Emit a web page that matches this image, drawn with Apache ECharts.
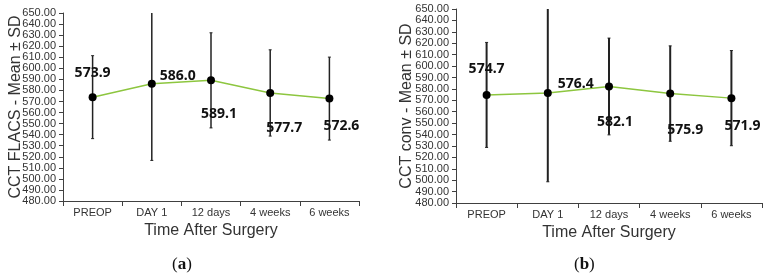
<!DOCTYPE html>
<html>
<head>
<meta charset="utf-8">
<script src="https://cdn.jsdelivr.net/npm/echarts@6/dist/echarts.min.js"></script>
<style>
  html, body { margin: 0; padding: 0; background: #fff; }
  #chart { width: 768px; height: 276px; }
</style>
</head>
<body>
<div id="chart"></div>
<script>
// categories and values
const categories = ['PREOP', 'DAY 1', '12 days', '4 weeks', '6 weeks']
const flacsMean = [573.9, 586.0, 589.1, 577.7, 572.6]
const flacsSd = [37.5, 69.3, 43.0, 39.0, 37.5]
const convMean = [574.7, 576.4, 582.1, 575.9, 571.9]
const convSd = [46.0, 77.8, 42.4, 41.8, 41.7]
const yMin = 480
const yMax = 650
const yStep = 10

// label placement (pixel offsets from each point), styling only
const flacsLabelOffset = [[0, -24], [26, -8], [8, 34], [14, 35], [12, 27]]
const convLabelOffset = [[0, -26], [28, -9], [6, 36], [15, 36], [11, 28]]

const axisColor = '#404040'
const textColor = '#333'
const lineGreen = '#8DC63F'

function yAxisOpt (gridIndex, name, gap) {
  return {
    type: 'value',
    gridIndex: gridIndex,
    min: yMin,
    max: yMax,
    interval: yStep,
    name: name,
    nameLocation: 'middle',
    nameGap: gap,
    nameMoveOverlap: false,
    nameTextStyle: { fontFamily: 'Liberation Sans', fontSize: 16, color: '#333' },
    axisLine: { show: true, lineStyle: { color: axisColor, width: 1 } },
    axisTick: { show: true, length: 4, lineStyle: { color: axisColor } },
    axisLabel: {
      margin: 7,
      fontFamily: 'Liberation Sans',
      fontSize: 11,
      color: textColor,
      formatter: v => v.toFixed(2)
    },
    splitLine: { show: false }
  }
}

function xAxisOpt (gridIndex, gap) {
  return {
    type: 'category',
    gridIndex: gridIndex,
    data: categories,
    boundaryGap: true,
    name: 'Time After Surgery',
    nameLocation: 'middle',
    nameGap: gap,
    nameTextStyle: { fontFamily: 'Liberation Sans', fontSize: 16, color: '#333' },
    axisLine: { show: true, lineStyle: { color: axisColor, width: 1 } },
    axisTick: { show: true, length: 5, alignWithLabel: false, lineStyle: { color: axisColor } },
    axisLabel: { margin: 6, fontFamily: 'Liberation Sans', fontSize: 11, color: textColor }
  }
}

function errorSeries (idx, means, sds, width) {
  return {
    type: 'custom',
    xAxisIndex: idx,
    yAxisIndex: idx,
    clip: true,
    z: 1,
    data: means.map((m, i) => [i, m - sds[i], m + sds[i]]),
    renderItem: function (params, api) {
      const lo = api.coord([api.value(0), api.value(1)])
      const hi = api.coord([api.value(0), api.value(2)])
      const c = 1.5
      return {
        type: 'group',
        children: [
          { type: 'line', shape: { x1: lo[0], y1: lo[1], x2: hi[0], y2: hi[1] }, style: { stroke: '#222', lineWidth: width } },
          { type: 'line', shape: { x1: hi[0] - c, y1: hi[1], x2: hi[0] + c, y2: hi[1] }, style: { stroke: '#222', lineWidth: 1 } },
          { type: 'line', shape: { x1: lo[0] - c, y1: lo[1], x2: lo[0] + c, y2: lo[1] }, style: { stroke: '#222', lineWidth: 1 } }
        ]
      }
    }
  }
}

function meanSeries (idx, means, offsets) {
  return {
    type: 'line',
    xAxisIndex: idx,
    yAxisIndex: idx,
    z: 3,
    symbol: 'circle',
    symbolSize: 8,
    itemStyle: { color: '#000' },
    lineStyle: { color: lineGreen, width: 1.5 },
    data: means.map((m, i) => ({
      value: m,
      label: { offset: offsets[i] }
    })),
    label: {
      show: true,
      position: 'inside',
      fontFamily: 'Noto Sans',
      fontWeight: 'bold',
      fontSize: 14,
      color: '#111',
      formatter: p => p.value.toFixed(1)
    }
  }
}

const chartDom = document.getElementById('chart')
const myChart = echarts.init(chartDom, null, { renderer: 'canvas' })

const option = {
  backgroundColor: '#fff',
  animation: false,
  grid: [
    { left: 63, top: 13, width: 296, height: 188 },
    { left: 456, top: 9, width: 306, height: 194 }
  ],
  xAxis: [xAxisOpt(0, 21), xAxisOpt(1, 22)],
  yAxis: [
    yAxisOpt(0, 'CCT FLACS - Mean ± SD', 39),
    yAxisOpt(1, 'CCT conv - Mean ± SD', 41)
  ],
  series: [
    errorSeries(0, flacsMean, flacsSd, 1.5),
    meanSeries(0, flacsMean, flacsLabelOffset),
    errorSeries(1, convMean, convSd, 2),
    meanSeries(1, convMean, convLabelOffset)
  ],
  graphic: [
    {
      type: 'text',
      left: 172,
      top: 256,
      style: {
        text: '({a|a})',
        font: '17px "Liberation Serif"',
        fill: '#111',
        rich: { a: { fontWeight: 'bold', fontFamily: 'Liberation Serif', fontSize: 17 } }
      }
    },
    {
      type: 'text',
      left: 574,
      top: 256,
      style: {
        text: '({b|b})',
        font: '17px "Liberation Serif"',
        fill: '#111',
        rich: { b: { fontWeight: 'bold', fontFamily: 'Liberation Serif', fontSize: 17 } }
      }
    }
  ]
}

myChart.setOption(option)
</script>
</body>
</html>
